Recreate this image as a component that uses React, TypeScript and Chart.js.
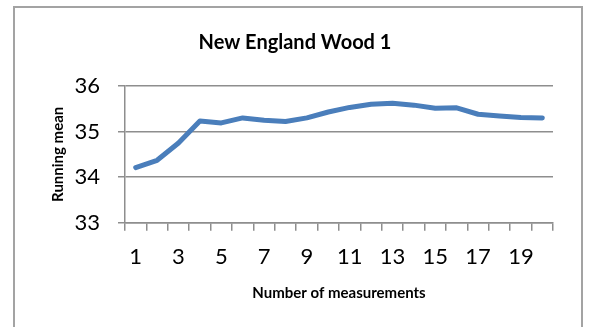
import React, { useEffect, useRef } from "react";
import { Chart, registerables } from "chart.js";

Chart.register(...registerables);

const chartTitle = "New England Wood 1";
const xAxisTitle = "Number of measurements";
const yAxisTitle = "Running mean";
const categories = ["1", "2", "3", "4", "5", "6", "7", "8", "9", "10", "11", "12", "13", "14", "15", "16", "17", "18", "19", "20"];
const runningMean = [34.21, 34.37, 34.75, 35.23, 35.19, 35.3, 35.25, 35.22, 35.3, 35.43, 35.53, 35.6, 35.62, 35.58, 35.51, 35.52, 35.38, 35.34, 35.31, 35.3];
const shownXLabels = ["1", "3", "5", "7", "9", "11", "13", "15", "17", "19"];
const yMin = 33;
const yMax = 36;
const yStep = 1;

const FONT = "Lato, 'Noto Sans', sans-serif";
const GRID = "#8e8e8e";

export default function App() {
  const ref = useRef<HTMLCanvasElement | null>(null);

  useEffect(() => {
    if (!ref.current) return;
    const chart = new Chart(ref.current, {
      type: "line",
      data: {
        labels: categories,
        datasets: [
          {
            data: runningMean,
            borderColor: "#4a7ebb",
            backgroundColor: "#4a7ebb",
            borderWidth: 5,
            pointRadius: 0,
            tension: 0,
            borderCapStyle: "round",
            borderJoinStyle: "round",
            fill: false,
          },
        ],
      },
      options: {
        animation: false,
        responsive: false,
        layout: { padding: { left: 37, right: 37, top: 0, bottom: 0 } },
        plugins: {
          legend: { display: false },
          tooltip: { enabled: false },
          title: {
            display: true,
            text: chartTitle,
            color: "#000",
            font: { family: FONT, size: 20, weight: "bold" },
            padding: { top: 31, bottom: 31 },
          },
        },
        scales: {
          x: {
            type: "category",
            offset: true,
            afterFit: (s: any) => {
              s.height = 104.3;
            },
            grid: {
              offset: true,
              drawOnChartArea: false,
              drawTicks: true,
              tickLength: 8,
              color: GRID,
              lineWidth: 1.5,
            },
            border: { display: true, color: GRID, width: 1.5 },
            ticks: {
              autoSkip: false,
              maxRotation: 0,
              color: "#000",
              padding: 13,
              font: { family: FONT, size: 22 },
              callback: (_v: any, i: number) =>
                shownXLabels.includes(categories[i]) ? categories[i] : "",
            },
            title: {
              display: true,
              text: xAxisTitle,
              color: "#000",
              font: { family: FONT, size: 15, weight: "bold" },
              padding: { top: 0, bottom: 25 },
            },
          },
          y: {
            min: yMin,
            max: yMax,
            afterFit: (s: any) => {
              s.width = 88;
            },
            grid: {
              color: GRID,
              lineWidth: 1.5,
              drawTicks: true,
              tickLength: 7,
            },
            border: { display: true, color: GRID, width: 1.5 },
            ticks: {
              stepSize: yStep,
              color: "#000",
              padding: 18,
              font: { family: FONT, size: 22 },
            },
            title: {
              display: true,
              text: yAxisTitle,
              color: "#000",
              font: { family: FONT, size: 15, weight: "bold" },
              padding: { top: 12, bottom: 0 },
            },
          },
        },
      },
    });
    return () => chart.destroy();
  }, []);

  return (
    <div
      style={{
        position: "fixed",
        left: 0,
        top: 0,
        width: 590,
        height: 327,
        overflow: "hidden",
        background: "#fff",
      }}
    >
      <div
        style={{
          position: "absolute",
          left: 13,
          top: 6,
          width: 570,
          height: 400,
          boxSizing: "border-box",
          border: "2px solid #a3a3a3",
        }}
      />
      <canvas
        ref={ref}
        width={590}
        height={327}
        style={{ position: "absolute", left: 0, top: 0, width: 590, height: 327 }}
      />
    </div>
  );
}
